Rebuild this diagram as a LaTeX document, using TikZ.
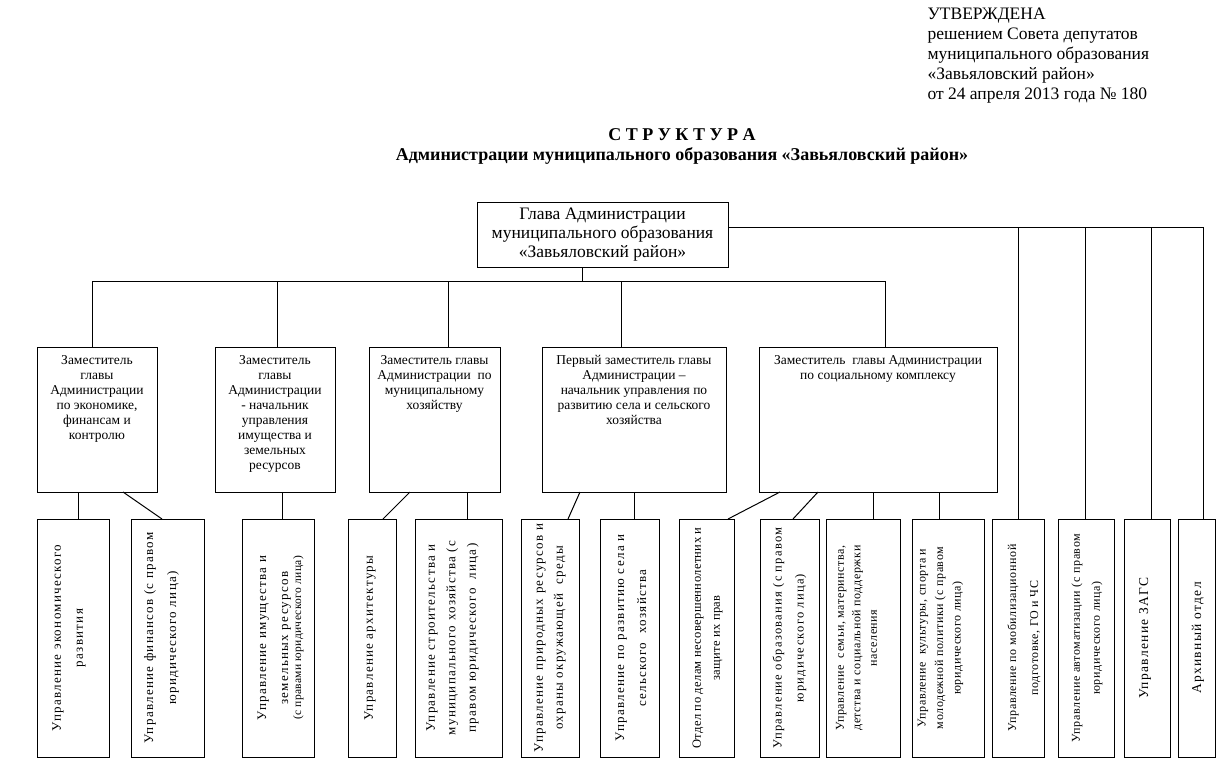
\documentclass[tikz,border=0pt]{standalone}
\usepackage{fontspec}
\setmainfont{Liberation Serif}
\newfontfamily\spaced[LetterSpace=10]{Liberation Serif}
\newfontfamily\spacedlight[LetterSpace=5]{Liberation Serif}
\newfontfamily\spacedtiny[LetterSpace=3]{Liberation Serif}
\begin{document}
\begin{tikzpicture}[x=1pt,y=-1pt, line width=1pt,
  box/.style={draw, rectangle, inner sep=0pt, outer sep=0pt},
  deptext/.style={anchor=north, align=center, inner sep=0pt, font=\fontsize{13.5}{15}\selectfont},
  vtext/.style={rotate=90, align=center, inner sep=0pt},
  conn/.style={draw, line width=1pt},
]
\useasboundingbox (0,0) rectangle (1227,766);

% approval text
\node[anchor=north west, align=left, inner sep=0pt, font=\fontsize{17.5}{20}\selectfont] (appr) at (927,7)
  {УТВЕРЖДЕНА\\решением Совета депутатов\\муниципального образования\\«Завьяловский район»\\от 24 апреля 2013 года № 180};

% title
\node[align=center, inner sep=0pt, font=\bfseries\fontsize{18}{20}\selectfont] (title) at (682,146)
  {С Т Р У К Т У Р А\\Администрации муниципального образования «Завьяловский район»};

% head
\node[box, minimum width=251pt, minimum height=65pt, align=center, font=\fontsize{17.5}{19}\selectfont] (h) at (602.5,234.5)
  {Глава Администрации\\муниципального образования\\«Завьяловский район»};

% deputies
\node[box, minimum width=120pt, minimum height=145pt] (d1) at (97,419.5) {};
\node[box, minimum width=120pt, minimum height=145pt] (d2) at (275,419.5) {};
\node[box, minimum width=131pt, minimum height=145pt] (d3) at (434.5,419.5) {};
\node[box, minimum width=184pt, minimum height=145pt] (d4) at (634,419.5) {};
\node[box, minimum width=238pt, minimum height=145pt] (d5) at (878,419.5) {};

\node[deptext] (t1) at ([yshift=-8pt]d1.north) {Заместитель\\главы\\Администрации\\по экономике,\\финансам и\\контролю};
\node[deptext] (t2) at ([yshift=-8pt]d2.north) {Заместитель\\главы\\Администрации\\- начальник\\управления\\имущества и\\земельных\\ресурсов};
\node[deptext] (t3) at ([yshift=-8pt]d3.north) {Заместитель главы\\Администрации \ по\\муниципальному\\хозяйству};
\node[deptext] (t4) at ([yshift=-8pt]d4.north) {Первый заместитель главы\\Администрации –\\начальник управления по\\развитию села и сельского\\хозяйства};
\node[deptext] (t5) at ([yshift=-8pt]d5.north) {Заместитель \ главы Администрации\\по социальному комплексу};

% bottom boxes
\foreach \n/\cx/\w in {bA/73/72, bB/167.5/73, bC/278/72, bD/372/48, bE/458.5/87, bF/550/58, bG/629.5/59, bH/706.5/55, bI/789.5/59, bJ/863/74, bK/948/72, bL/1018/52, bM/1086/56, bN/1147/46, bO/1196.5/37}
  \node[box, minimum width=\w pt, minimum height=238pt] (\n) at (\cx,638) {};

\node[vtext, font=\spaced\fontsize{13}{22}\selectfont] (xA) at ([xshift=-4pt]bA.center) {Управление экономического\\развития};
\node[vtext, font=\spaced\fontsize{13}{23}\selectfont] (xB) at ([xshift=-6pt]bB.center) {Управление финансов (с правом\\юридического лица)};
\node[vtext, font=\spaced\fontsize{13}{22}\selectfont] (xC) at ([xshift=2.5pt]bC.center) {Управление имущества и\\земельных ресурсов\\[-9pt]{\spacedtiny\fontsize{11.5}{13}\selectfont (с правами юридического лица)}};
\node[vtext, font=\spaced\fontsize{13}{22}\selectfont] (xD) at ([xshift=-2pt]bD.center) {Управление архитектуры};
\node[vtext, font=\spaced\fontsize{13}{20.5}\selectfont] (xE) at ([xshift=-6pt]bE.center) {Управление строительства и\\муниципального хозяйства (с\\правом юридического \ лица)};
\node[vtext, font=\spaced\fontsize{13}{20}\selectfont] (xF) at (bF.center) {Управление природных ресурсов и\\охраны окружающей \ среды};
\node[vtext, font=\spaced\fontsize{13}{22}\selectfont] (xG) at ([xshift=1.5pt]bG.center) {Управление по развитию села и\\сельского \ хозяйства};
\node[vtext, font=\spacedtiny\fontsize{12.5}{19}\selectfont] (xH) at ([xshift=1pt]bH.center) {Отдел по делам несовершеннолетних и\\защите их прав};
\node[vtext, font=\spaced\fontsize{12.5}{22}\selectfont] (xI) at (bI.center) {Управление образования (с правом\\юридического лица)};
\node[vtext, font=\spacedlight\fontsize{12}{16.5}\selectfont] (xJ) at ([xshift=-6.5pt]bJ.center) {Управление \ семьи, материнства,\\детства и социальной поддержки\\населения};
\node[vtext, font=\spacedlight\fontsize{12}{17.5}\selectfont] (xK) at ([xshift=-7.5pt]bK.center) {Управление \ культуры, спорта и\\молодежной политики (с правом\\юридического лица)};
\node[vtext, font=\spacedlight\fontsize{12}{22}\selectfont] (xL) at ([xshift=6pt]bL.center) {Управление по мобилизационной\\подготовке, ГО и ЧС};
\node[vtext, font=\spacedlight\fontsize{12}{20}\selectfont] (xM) at ([xshift=1pt]bM.center) {Управление автоматизации (с правом\\юридического лица)};
\node[vtext, font=\spaced\fontsize{13.5}{22}\selectfont] (xN) at ([xshift=-2pt]bN.center) {Управление ЗАГС};
\node[vtext, font=\spaced\fontsize{13.5}{22}\selectfont] (xO) at ([xshift=1.5pt]bO.center) {Архивный отдел};

% head to deputies bus
\coordinate (bus0) at (582,281);
\coordinate (bus1) at (92,281);
\coordinate (bus2) at (277,281);
\coordinate (bus3) at (448,281);
\coordinate (bus4) at (621,281);
\coordinate (bus5) at (885,281);
\draw[conn] ([xshift=-20.5pt]h.south) -- (bus0);
\draw[conn] (bus1) -- (bus5);
\draw[conn] (bus1) -- (bus1 |- d1.north);
\draw[conn] (bus2) -- (bus2 |- d2.north);
\draw[conn] (bus3) -- (bus3 |- d3.north);
\draw[conn] (bus4) -- (bus4 |- d4.north);
\draw[conn] (bus5) -- (bus5 |- d5.north);

% head to right-side units
\coordinate (r1) at (1018,227);
\coordinate (r2) at (1085,227);
\coordinate (r3) at (1151,227);
\coordinate (r4) at (1203,227);
\draw[conn] ([yshift=7.5pt]h.east) -- (r4);
\draw[conn] (r1) -- (r1 |- bL.north);
\draw[conn] (r2) -- (r2 |- bM.north);
\draw[conn] (r3) -- (r3 |- bN.north);
\draw[conn] (r4) -- (r4 |- bO.north);

% deputies to units
\draw[conn] ([xshift=5pt]bA.north) -- ([xshift=5pt]bA.north |- d1.south);
\draw[conn] ([xshift=26pt]d1.south) -- ([xshift=-5.5pt]bB.north);
\draw[conn] ([xshift=4pt]bC.north) -- ([xshift=4pt]bC.north |- d2.south);
\draw[conn] ([xshift=-24.5pt]d3.south) -- ([xshift=11pt]bD.north);
\draw[conn] ([xshift=8.5pt]bE.north) -- ([xshift=8.5pt]bE.north |- d3.south);
\draw[conn] ([xshift=-54pt]d4.south) -- ([xshift=18pt]bF.north);
\draw[conn] ([xshift=4.5pt]bG.north) -- ([xshift=4.5pt]bG.north |- d4.south);
\draw[conn] ([xshift=-98pt]d5.south) -- ([xshift=21.5pt]bH.north);
\draw[conn] ([xshift=-60pt]d5.south) -- ([xshift=3.5pt]bI.north);
\draw[conn] ([xshift=10pt]bJ.north) -- ([xshift=10pt]bJ.north |- d5.south);
\draw[conn] ([xshift=-9pt]bK.north) -- ([xshift=-9pt]bK.north |- d5.south);
\end{tikzpicture}
\end{document}
